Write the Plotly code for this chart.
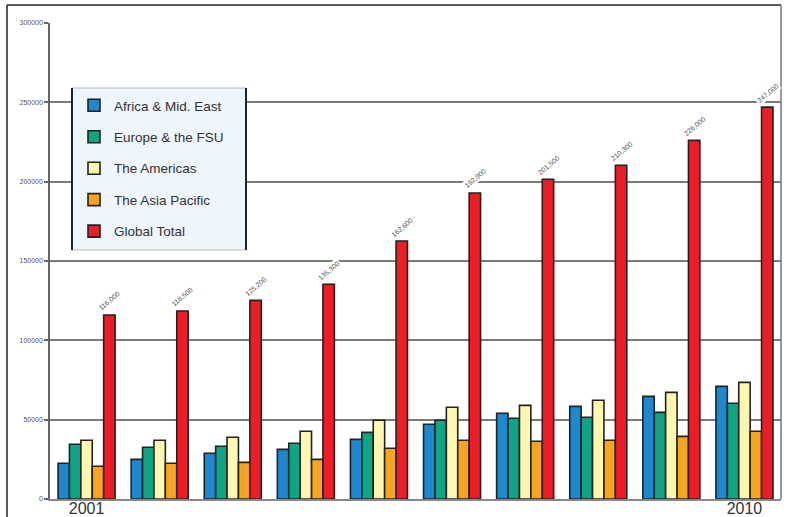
import plotly.graph_objects as go

years = ["2001", "2002", "2003", "2004", "2005", "2006", "2007", "2008", "2009", "2010"]
africa_mid_east = [22500, 25000, 28800, 31300, 37600, 47100, 54000, 58400, 64700, 71000]
europe_fsu = [34500, 32600, 33200, 35100, 42000, 49600, 50900, 51500, 54600, 60300]
americas = [37000, 37000, 38900, 42700, 49600, 57800, 59000, 62200, 67200, 73500]
asia_pacific = [20600, 22500, 23100, 25000, 32000, 37000, 36400, 37000, 39500, 42700]
global_total = [116000, 118500, 125200, 135300, 162600, 192900, 201500, 210300, 226000, 247000]

series = [
    ("Africa & Mid. East", africa_mid_east, "#1b88d0"),
    ("Europe & the FSU", europe_fsu, "#0fa584"),
    ("The Americas", americas, "#fff6b0"),
    ("The Asia Pacific", asia_pacific, "#f7a51c"),
    ("Global Total", global_total, "#ee1c25"),
]

pos = list(range(len(years)))

fig = go.Figure()
for i, (name, vals, col) in enumerate(series):
    fig.add_trace(go.Bar(
        x=pos, y=vals, name=name, legendgroup=name,
        marker=dict(color=col, line=dict(color="#222222", width=1.6)),
    ))

# rotated value labels above the total bars
for p, v in zip(pos, global_total):
    fig.add_annotation(
        x=p, y=v, xref="x", yref="y", text=f"{v:,}", showarrow=False,
        textangle=-40, font=dict(size=7, color="#555555", family="Liberation Sans"),
        xshift=23, yshift=14, bgcolor="white",
    )

# legend box
L, R, T, B, W, H = 50, 781, 23, 499, 731, 476
def px(x):
    return (x - L) / W
def py(y):
    return (B - y) / H

fig.add_shape(type="rect", xref="paper", yref="paper",
              x0=px(72), x1=px(246), y0=py(250), y1=py(88),
              fillcolor="#eef5fb", line=dict(color="#bbbbbb", width=1), layer="above")
for xx in (72, 246):
    fig.add_shape(type="line", xref="paper", yref="paper",
                  x0=px(xx), x1=px(xx), y0=py(250), y1=py(88),
                  line=dict(color="#222222", width=2), layer="above")

# outer frame
fig.add_shape(type="line", xref="paper", yref="paper", x0=px(7), x1=px(7), y0=py(520), y1=py(5),
              line=dict(color="#222222", width=1.5))
fig.add_shape(type="line", xref="paper", yref="paper", x0=px(7), x1=px(781), y0=py(5), y1=py(5),
              line=dict(color="#222222", width=1.5))
fig.add_shape(type="line", xref="paper", yref="paper", x0=px(781), x1=px(781), y0=py(499), y1=py(5),
              line=dict(color="#777777", width=1.5))

fig.update_layout(
    width=789, height=517,
    margin=dict(l=L, r=789 - R, t=T, b=517 - B, autoexpand=False),
    paper_bgcolor="white", plot_bgcolor="white",
    barmode="group", bargap=0.22, bargroupgap=0,
    font=dict(family="Liberation Sans", color="#333333"),
    showlegend=True,
    legend=dict(
        x=px(74), y=py(90), xanchor="left", yanchor="top",
        bgcolor="rgba(0,0,0,0)", borderwidth=0,
        font=dict(size=13.5, color="#333333"),
        tracegroupgap=10.9, traceorder="grouped",
    ),
    xaxis=dict(
        range=[-0.5, len(years) - 0.5], tickmode="array",
        tickvals=[pos[0], pos[-1]], ticktext=[years[0], years[-1]],
        tickfont=dict(size=16, color="#333333"), ticks="", showgrid=False, zeroline=False,
        ticklabelstandoff=-6,
        showline=True, linecolor="#888888", linewidth=1.5, automargin=False,
    ),
    yaxis=dict(
        range=[0, 300000], tickvals=[0, 50000, 100000, 150000, 200000, 250000, 300000],
        ticktext=["0", "50000", "100000", "150000", "200000", "250000", "300000"],
        tickfont=dict(size=7, color="#555555"), ticks="outside", ticklen=4,
        tickcolor="#666666", tickwidth=1.5,
        showgrid=True, gridcolor="#7a7a7a", gridwidth=1.5,
        showline=True, linecolor="#666666", linewidth=1.5, zeroline=False, automargin=False,
    ),
)

fig.write_html("out.html")
